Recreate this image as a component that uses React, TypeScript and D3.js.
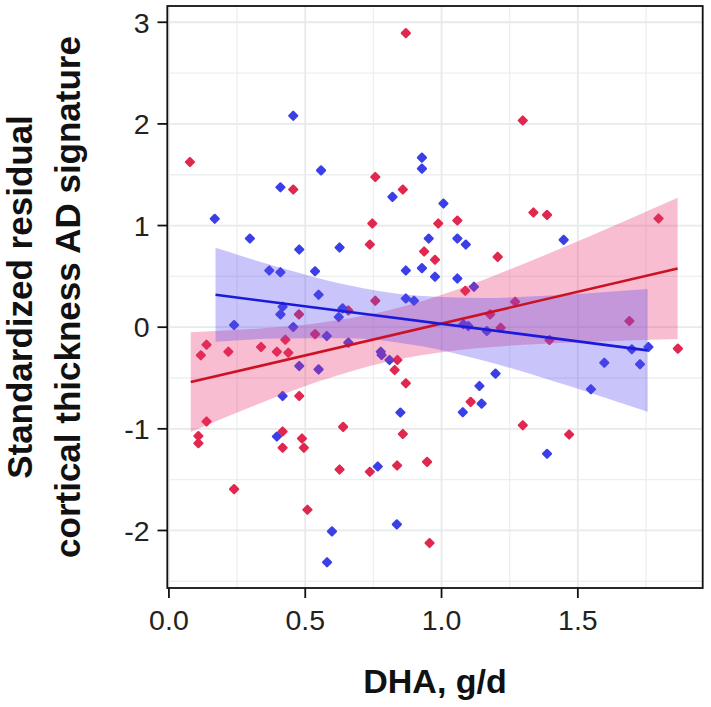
import React from "react";
import * as d3 from "d3";

const redX = [0.869,0.077,0.757,0.456,0.858,1.298,0.746,0.737,0.936,0.757,0.477,0.658,0.536,0.427,0.138,0.117,0.218,0.338,0.396,0.438,0.838,0.828,0.869,0.478,0.988,1.058,0.976,1.206,1.337,1.387,1.796,1.087,1.27,1.178,1.217,1.396,1.689,1.867,1.107,0.138,0.108,0.108,0.417,0.417,0.488,0.495,0.639,0.858,0.626,0.737,0.837,0.947,0.239,0.508,0.956,1.298,1.468];
const redY = [2.893,1.626,1.478,1.354,1.354,2.034,1.02,0.813,0.745,0.26,0.126,0.165,-0.068,-0.123,-0.172,-0.277,-0.241,-0.195,-0.241,-0.251,-0.323,-0.421,-0.552,-0.677,1.02,1.049,0.663,0.692,1.128,1.105,1.069,0.358,0.25,0.126,-0.005,-0.127,0.06,-0.211,-0.735,-0.928,-1.07,-1.141,-1.027,-1.187,-1.095,-1.187,-0.981,-1.05,-1.4,-1.423,-1.361,-1.325,-1.593,-1.796,-2.124,-0.965,-1.056];

const blueX = [0.456,0.558,0.928,0.928,0.409,0.82,1.007,0.168,0.297,0.478,0.626,0.953,0.368,0.409,0.536,0.869,0.928,0.549,0.869,0.899,0.417,0.409,0.637,0.623,0.239,0.456,0.579,0.658,0.777,0.78,0.809,0.478,0.549,0.417,1.058,1.089,0.976,1.058,1.448,1.119,1.08,1.098,1.166,1.698,1.759,1.728,1.597,1.198,1.139,1.548,1.147,1.078,1.387,0.396,0.849,0.766,0.598,0.836,0.58];
const blueY = [2.08,1.543,1.668,1.56,1.376,1.282,1.216,1.066,0.872,0.764,0.784,0.872,0.558,0.541,0.551,0.558,0.581,0.319,0.283,0.26,0.201,0.126,0.185,0.1,0.021,0.001,-0.087,-0.152,-0.241,-0.274,-0.323,-0.382,-0.415,-0.677,0.872,0.813,0.496,0.479,0.859,0.398,0.028,0.011,-0.038,-0.218,-0.195,-0.365,-0.349,-0.457,-0.578,-0.611,-0.752,-0.837,-1.246,-1.076,-0.84,-1.37,-2.009,-1.94,-2.313];

const redBandX = [0.08,0.3,0.55,0.8,1.05,1.3,1.55,1.866];
const redBandLow = [-1.03,-0.785,-0.533,-0.339,-0.229,-0.174,-0.143,-0.117];
const redBandHigh = [-0.05,-0.019,0.041,0.161,0.363,0.622,0.903,1.273];

const blueBandX = [0.171,0.4,0.65,0.9,1.15,1.4,1.756];
const blueBandLow = [-0.143,-0.112,-0.109,-0.176,-0.326,-0.521,-0.831];
const blueBandHigh = [0.781,0.592,0.417,0.312,0.288,0.311,0.375];

const redLineX = [0.08,1.866];
const redLineY = [-0.54,0.578];
const blueLineX = [0.171,1.756];
const blueLineY = [0.319,-0.228];

const xTicks = [0,0.5,1.0,1.5];
const xTickLabels = ["0.0","0.5","1.0","1.5"];
const xMinor = [0.25,0.75,1.25,1.75];
const yTicks = [-2,-1,0,1,2,3];
const yTickLabels = ["-2","-1","0","1","2","3"];
const yMinor = [-2.5,-1.5,-0.5,0.5,1.5,2.5];

const W = 711, H = 707;
const L = 167.3, R = 702.7, T = 6, B = 588;
const FONT = "'Liberation Sans', Arial, Helvetica, sans-serif";

export default function App() {
  const x = d3.scaleLinear().domain([-0.006, 1.958]).range([L, R]);
  const y = d3.scaleLinear().domain([-2.566, 3.16]).range([B, T]);

  const band = (xs: number[], lo: number[], hi: number[]) =>
    d3.area<number>()
      .x((i) => x(xs[i]))
      .y0((i) => y(lo[i]))
      .y1((i) => y(hi[i]))
      .curve(d3.curveMonotoneX)(xs.map((_, i) => i)) || "";

  const line = (xs: number[], ys: number[]) =>
    d3.line<number>().x((i) => x(xs[i])).y((i) => y(ys[i]))(xs.map((_, i) => i)) || "";

  const sym = d3.symbol().type(d3.symbolSquare).size(32)() || "";

  return (
    <div style={{ position: "absolute", left: 0, top: 0 }}>
      <svg width={W} height={H} style={{ display: "block", background: "#fff" }}>
        <rect x={0} y={0} width={W} height={H} fill="#fff" />
        {xMinor.map((v) => (
          <line key={"xm" + v} x1={x(v)} x2={x(v)} y1={T} y2={B} stroke="#eceff0" strokeWidth={1.3} />
        ))}
        {yMinor.map((v) => (
          <line key={"ym" + v} x1={L} x2={R} y1={y(v)} y2={y(v)} stroke="#eceff0" strokeWidth={1.3} />
        ))}
        {xTicks.map((v) => (
          <line key={"xg" + v} x1={x(v)} x2={x(v)} y1={T} y2={B} stroke="#e6eaeb" strokeWidth={1.8} />
        ))}
        {yTicks.map((v) => (
          <line key={"yg" + v} x1={L} x2={R} y1={y(v)} y2={y(v)} stroke="#e6eaeb" strokeWidth={1.8} />
        ))}
        {redX.map((v, i) => (
          <path key={"r" + i} d={sym} transform={`translate(${x(v)},${y(redY[i])}) rotate(45)`} fill="#e0284f" stroke="#e0284f" strokeWidth={2.2} strokeLinejoin="round" />
        ))}
        {blueX.map((v, i) => (
          <path key={"b" + i} d={sym} transform={`translate(${x(v)},${y(blueY[i])}) rotate(45)`} fill="#3b3fe6" stroke="#3b3fe6" strokeWidth={2.2} strokeLinejoin="round" />
        ))}
        <path d={band(redBandX, redBandLow, redBandHigh)} fill="#e8336e" fillOpacity={0.32} />
        <path d={band(blueBandX, blueBandLow, blueBandHigh)} fill="#5a4cf0" fillOpacity={0.33} />
        <path d={line(redLineX, redLineY)} stroke="#cc1124" strokeWidth={2.6} fill="none" />
        <path d={line(blueLineX, blueLineY)} stroke="#1a1ad8" strokeWidth={2.6} fill="none" />
        <rect x={L} y={T} width={R - L} height={B - T} fill="none" stroke="#111" strokeWidth={1.8} />
        {yTicks.map((v, i) => (
          <g key={"yt" + v}>
            <line x1={157.5} x2={L} y1={y(v)} y2={y(v)} stroke="#111" strokeWidth={1.8} />
            <text x={149.5} y={y(v)} dy="0.36em" textAnchor="end" fontFamily={FONT} fontSize={28.5} fill="#222">
              {yTickLabels[i]}
            </text>
          </g>
        ))}
        {xTicks.map((v, i) => (
          <g key={"xt" + v}>
            <line x1={x(v)} x2={x(v)} y1={B} y2={598} stroke="#111" strokeWidth={1.8} />
            <text x={x(v)} y={630} textAnchor="middle" fontFamily={FONT} fontSize={28.5} fill="#222">
              {xTickLabels[i]}
            </text>
          </g>
        ))}
        <text x={(L + R) / 2} y={693} textAnchor="middle" fontFamily={FONT} fontWeight="bold" fontSize={34} fill="#111">
          DHA, g/d
        </text>
        <text transform={`translate(32,${(T + B) / 2}) rotate(-90)`} textAnchor="middle" fontFamily={FONT} fontWeight="bold" fontSize={35} fill="#111">
          Standardized residual
        </text>
        <text transform={`translate(80,${(T + B) / 2}) rotate(-90)`} textAnchor="middle" fontFamily={FONT} fontWeight="bold" fontSize={35} fill="#111">
          cortical thickness AD signature
        </text>
      </svg>
    </div>
  );
}
